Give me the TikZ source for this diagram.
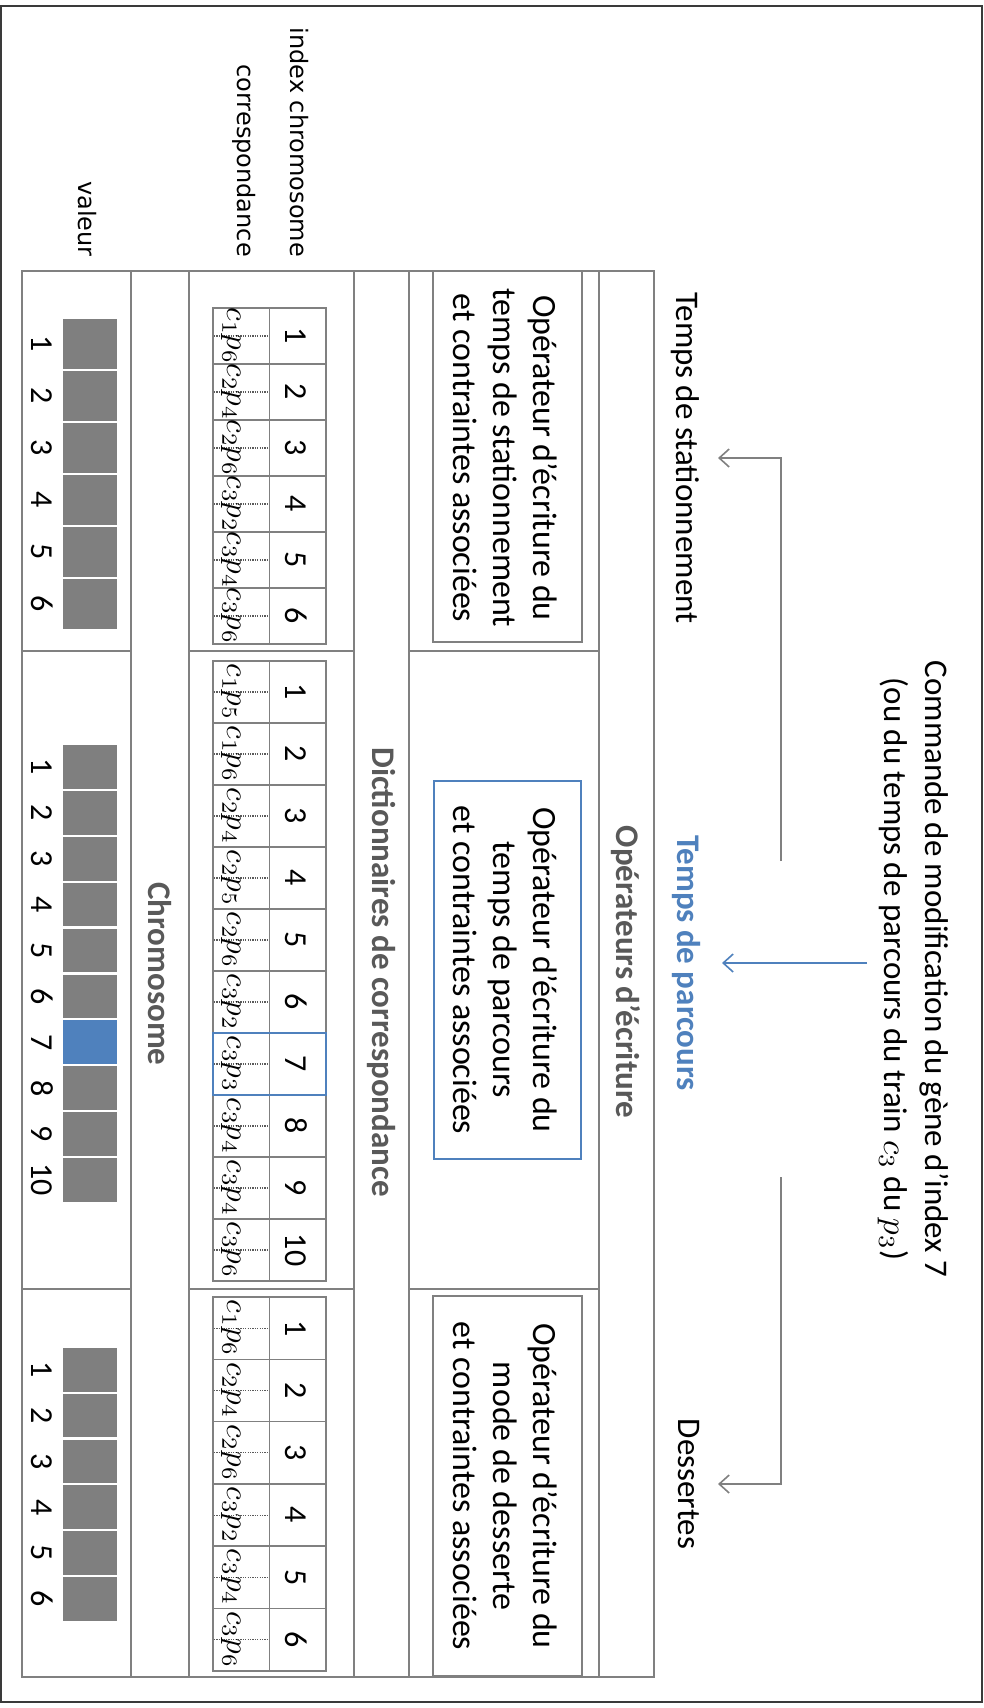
\documentclass[tikz,border=0pt]{standalone}
\usepackage{fontspec}
\setmainfont{Carlito}
\newfontfamily\dvs{DejaVu Sans}
\usetikzlibrary{arrows.meta}
\definecolor{lgrey}{HTML}{808080}
\definecolor{dgrey}{HTML}{5A5A5A}
\definecolor{cgrey}{HTML}{7F7F7F}
\definecolor{oblue}{HTML}{4F81BD}
\definecolor{tgrey}{HTML}{595959}
\definecolor{framec}{HTML}{3A3A3A}

\newcommand\mth[2][3]{\scalebox{#1}{\normalsize$#2$}}

\newcommand\valcol[4]{%
  \foreach \i in {1,...,#4} {
    \pgfmathsetmacro\ya{#2+(\i-1)*#3}
    \pgfmathsetmacro\yb{\ya+#3-2.2}
    \pgfmathsetmacro\ym{(\ya+\yb)/2}
    \fill[cgrey] (63,\ya) rectangle (117,\yb);
    \node[numtext] (#1n\i) at (42,\ym) {\i};
  }}

\newcommand\dicttable[4]{%
  \foreach \c/\p [count=\i] in {#4} {
    \pgfmathsetmacro\ya{#2+(\i-1)*#3}
    \pgfmathsetmacro\yb{#2+\i*#3}
    \pgfmathsetmacro\ym{#2+(\i-0.5)*#3}
    \draw[dline] (213,\ya) rectangle (326,\yb);
    \draw[dline] (269.5,\ya) -- (269.5,\yb);
    \draw[dotl] (214,\ym) -- (269,\ym);
    \node[cptext] (#1c\i) at (227,\ym) {\mth[3.1]{c_{\c}p_{\p}}};
    \node[numtext] (#1i\i) at (296,\ym) {\i};
  }}

\begin{document}
\begin{tikzpicture}[x=1pt,y=-1pt,
  rt/.style={rotate=-90,inner sep=0pt},
  optext/.style={rt,align=center,font=\fontsize{34}{40}\selectfont},
  numtext/.style={rt,font=\fontsize{32}{38}\selectfont},
  cptext/.style={rt,anchor=base},
  hdtext/.style={rt,font=\dvs\fontsize{24}{29}\selectfont},
  secttl/.style={rt,font=\fontsize{33}{40}\selectfont\bfseries,text=tgrey},
  sidetext/.style={rt,font=\fontsize{33}{41}\selectfont},
  tline/.style={draw=lgrey,line width=1.8pt},
  dline/.style={draw=lgrey,line width=1.5pt},
  dotl/.style={draw=dgrey,line width=1.1pt,dash pattern=on 1.1pt off 1.3pt},
  opbox/.style={draw=lgrey,line width=1.8pt},
  arr/.style={draw=lgrey,line width=1.6pt,-{Straight Barb[length=10pt,width=18pt]}},
]
\fill[white] (0,0) rectangle (984,1708);
\useasboundingbox (0,0) rectangle (984,1708);
\draw[framec,line width=2pt] (1,6) rectangle (982,1702);

% main table
\draw[tline] (22,271) rectangle (654,1677);
\foreach \x in {131,189,354,409,599} \draw[tline] (\x,271) -- (\x,1677);
\foreach \y in {651,1289} {
  \draw[tline] (22,\y) -- (131,\y);
  \draw[tline] (189,\y) -- (354,\y);
  \draw[tline] (409,\y) -- (599,\y);
}

% chromosome values
\valcol{va}{319}{52}{6}
\valcol{vb}{745}{45.9}{10}
\valcol{vc}{1348}{45.8}{6}
\fill[oblue] (63,{745+6*45.9}) rectangle (117,{745+7*45.9-2.2});

% correspondence tables
\dicttable{da}{308}{56}{1/6,2/4,2/6,3/2,3/4,3/6}
\dicttable{db}{661}{62}{1/5,1/6,2/4,2/5,2/6,3/2,3/3,3/4,3/4,3/6}
\dicttable{dc}{1297}{62.3}{1/6,2/4,2/6,3/2,3/4,3/6}
\draw[draw=oblue,line width=1.8pt] (213,{661+6*62}) rectangle (326,{661+7*62});

% operator boxes
\node[opbox,minimum width=149pt,minimum height=371pt,inner sep=0pt] (opa) at (507.5,456.5) {};
\node[optext] (opat) at (505,458) {Opérateur d’écriture du\\temps de stationnement\\et contraintes associées};
\node[draw=oblue,line width=1.8pt,minimum width=147pt,minimum height=378pt,inner sep=0pt] (opb) at (507.5,970) {};
\node[optext] (opbt) at (505,970) {Opérateur d’écriture du\\temps de parcours\\et contraintes associées};
\node[opbox,minimum width=149pt,minimum height=380pt,inner sep=0pt] (opc) at (507.5,1486) {};
\node[optext] (opct) at (505,1486) {Opérateur d’écriture du\\mode de desserte\\et contraintes associées};

% section titles
\node[secttl] (chromo) at (160,974) {Chromosome};
\node[secttl] (dict) at (381.5,972) {Dictionnaires de correspondance};
\node[secttl] (opers) at (626,972) {Opérateurs d’écriture};

% column headers
\node[hdtext,anchor=base east] (hidx) at (290,257) {index chromosome};
\node[hdtext,anchor=base east] (hcor) at (237,257) {correspondance};
\node[hdtext,anchor=base east] (hval) at (78,257) {valeur};

% right side
\node[sidetext,align=center] (cmd) at (913,969) {Commande de modification du gène d’index 7\\(ou du temps de parcours du train \mth[3.3]{c_3} du \mth[3.3]{p_3})};
\node[sidetext,anchor=north,inner ysep=18pt] (ts) at (718,458) {Temps de stationnement};
\node[sidetext,anchor=north,inner ysep=21pt,font=\fontsize{33}{41}\selectfont\bfseries,text=oblue] (tp) at (722,963) {Temps de parcours};
\node[sidetext,anchor=north,inner ysep=18pt] (ds) at (718,1484) {Dessertes};

\coordinate (s1) at (781,861);
\coordinate (s2) at (781,1177);
\coordinate (s3) at (867,963);
\draw[arr] (s1) |- (ts.north);
\draw[arr] (s2) |- (ds.north);
\draw[arr,draw=oblue] (s3) -- (tp.north);
\end{tikzpicture}
\end{document}
